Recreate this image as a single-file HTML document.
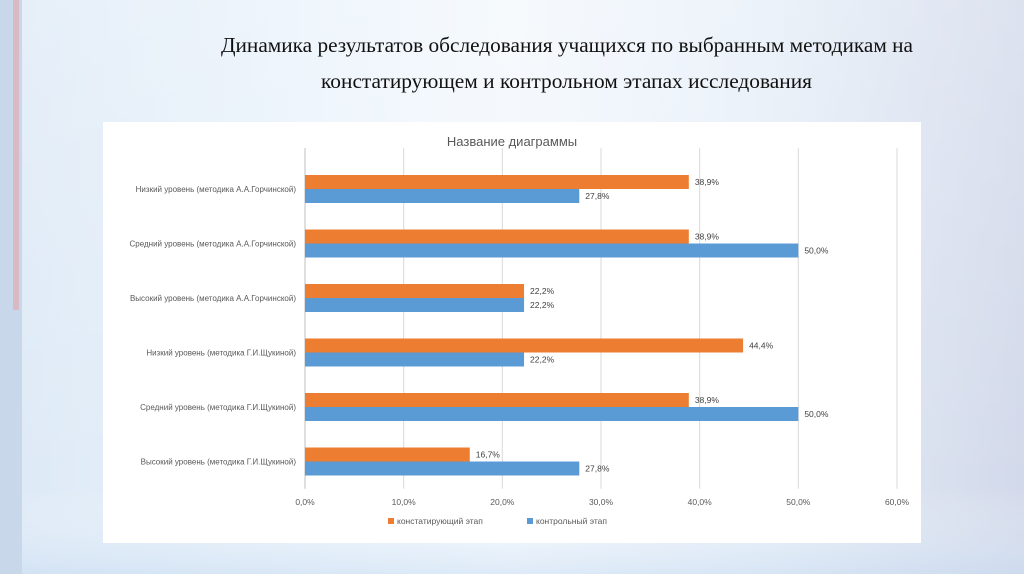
<!DOCTYPE html>
<html><head><meta charset="utf-8">
<style>
html,body{margin:0;padding:0;width:1024px;height:574px;overflow:hidden}
body{background:linear-gradient(90deg,#dde9f6 0%,#eaf3fb 30%,#f3f8fd 50%,#e6eef8 75%,#d2d9ea 100%);position:relative}
svg{position:absolute;left:0;top:0}
</style></head>
<body>
<svg width="1024" height="574" viewBox="0 0 1024 574" xmlns="http://www.w3.org/2000/svg">
  <defs>
    <linearGradient id="bg2" x1="0" y1="0" x2="0" y2="1">
      <stop offset="0" stop-color="#ffffff" stop-opacity="0.25"/>
      <stop offset="0.85" stop-color="#ffffff" stop-opacity="0"/>
      <stop offset="1" stop-color="#c8dcf2" stop-opacity="0.5"/>
    </linearGradient>
  </defs>
  <rect x="0" y="0" width="1024" height="574" fill="url(#bg2)"/>
  <rect x="0" y="0" width="22" height="574" fill="#c9d7ea"/>
  <rect x="13" y="0" width="6" height="310" fill="#d9b9c4"/>
  <text x="221" y="52" textLength="692" lengthAdjust="spacingAndGlyphs" font-family="Liberation Serif, serif" font-size="21" fill="#111">Динамика результатов обследования учащихся по выбранным методикам на</text>
  <text x="321" y="88" textLength="491" lengthAdjust="spacingAndGlyphs" font-family="Liberation Serif, serif" font-size="21" fill="#111">констатирующем и контрольном этапах исследования</text>
  <rect x="103" y="122" width="818" height="421" fill="#ffffff"/>
  <text x="512" y="146" text-anchor="middle" font-family="Liberation Sans, sans-serif" font-size="13" fill="#595959">Название диаграммы</text>
  <g id="plot"></g>
</svg>
<script>
const categories=["Низкий уровень (методика А.А.Горчинской)","Средний уровень (методика А.А.Горчинской)","Высокий уровень (методика А.А.Горчинской)","Низкий уровень (методика Г.И.Щукиной)","Средний уровень (методика Г.И.Щукиной)","Высокий уровень (методика Г.И.Щукиной)"];
const constSeries=[38.9,38.9,22.2,44.4,38.9,16.7];
const controlSeries=[27.8,50.0,22.2,22.2,50.0,27.8];
const tickValues=[0,10,20,30,40,50,60];
const tickLabels=["0,0%","10,0%","20,0%","30,0%","40,0%","50,0%","60,0%"];

const NS="http://www.w3.org/2000/svg";
const g=document.getElementById('plot');
const X0=305,X1=897,GY0=148,Y0=161.75,Y1=488.75;
const xs=v=>X0+(v/60)*(X1-X0);
const band=(Y1-Y0)/categories.length;
const yc=i=>Y0+band*(i+0.5);
const BH=14;
function mk(tag,attrs){const e=document.createElementNS(NS,tag);for(const k in attrs)e.setAttribute(k,attrs[k]);g.appendChild(e);return e;}
const fmt=v=>v.toFixed(1).replace('.',',')+'%';
tickValues.forEach((t,i)=>{
  const gl=mk('line',{x1:xs(t),x2:xs(t),y1:GY0,y2:Y1,stroke:i===0?'#bfbfbf':'#d9d9d9','stroke-width':1});
  
  
  const tl=mk('text',{x:xs(t),y:Y1+16,'text-anchor':'middle','font-family':'Liberation Sans, sans-serif','font-size':'8.5',fill:'#595959'});
  tl.textContent=tickLabels[i];
  
  
});
categories.forEach((c,i)=>{
  const y=yc(i);
  const cl=mk('text',{x:296,y:y+3,'text-anchor':'end','font-family':'Liberation Sans, sans-serif','font-size':'8',fill:'#595959'});
  cl.textContent=c;
  
  
  const b1=mk('rect',{x:X0,y:y-BH,width:xs(constSeries[i])-X0,height:BH,fill:'#ED7D31'});
  
  
  const b2=mk('rect',{x:X0,y:y,width:xs(controlSeries[i])-X0,height:BH,fill:'#5B9BD5'});
  
  
  const l1=mk('text',{x:xs(constSeries[i])+6,y:y-4,'font-family':'Liberation Sans, sans-serif','font-size':'8.5',fill:'#404040'});
  l1.textContent=fmt(constSeries[i]);
  
  
  const l2=mk('text',{x:xs(controlSeries[i])+6,y:y+10,'font-family':'Liberation Sans, sans-serif','font-size':'8.5',fill:'#404040'});
  l2.textContent=fmt(controlSeries[i]);
  
  
});
const ls1=mk('rect',{x:388,y:518,width:6,height:6,fill:'#ED7D31'});


const lt1=mk('text',{x:397,y:524,'font-family':'Liberation Sans, sans-serif','font-size':'8.5',fill:'#595959'});
lt1.textContent='констатирующий этап';


const ls2=mk('rect',{x:527,y:518,width:6,height:6,fill:'#5B9BD5'});


const lt2=mk('text',{x:536,y:524,'font-family':'Liberation Sans, sans-serif','font-size':'8.5',fill:'#595959'});
lt2.textContent='контрольный этап';


</script>
</body></html>
